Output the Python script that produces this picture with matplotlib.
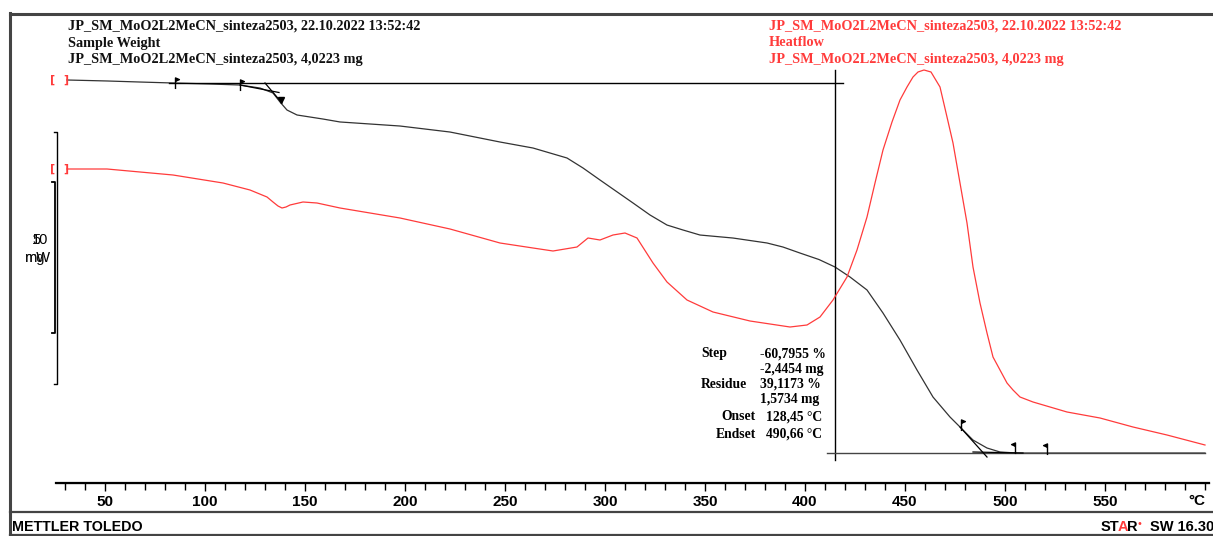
import matplotlib
matplotlib.use("Agg")
import matplotlib.pyplot as plt
from matplotlib.path import Path
from matplotlib.ticker import MultipleLocator

# --- data ---
tga_T = [31, 51, 67.5, 84, 102.5, 117.5, 127.5, 134, 137.5, 141, 146, 159, 167.5,
         197.5, 222.5, 247.5, 264, 281, 289, 297.5, 314, 322.5, 331, 339, 347.5,
         364, 381, 389, 397.5, 407, 415, 422.5, 431, 439, 447.5, 456, 464, 472.5,
         477.5, 484, 491, 497.5, 506, 547.5, 600]
tga_pct = [100.0, 99.84, 99.67, 99.51, 99.35, 99.18, 98.69, 97.88, 96.41, 95.10,
           94.29, 93.63, 93.15, 92.49, 91.51, 89.88, 88.90, 87.27, 85.64, 83.68,
           79.93, 77.97, 76.33, 75.52, 74.70, 74.21, 73.40, 72.74, 71.76, 70.70,
           69.48, 67.85, 65.73, 61.97, 57.56, 52.67, 48.26, 45.00, 43.37, 41.24,
           39.94, 39.29, 39.12, 39.12, 39.12]

hf_T = [31, 51, 84, 109, 122.5, 131, 134, 136.5, 138.5, 140.5, 142.5, 149, 156,
        167.5, 197.5, 222.5, 247.5, 264, 274, 286, 291.5, 297.5, 304, 310, 316,
        324, 331, 341, 354, 372.5, 392.5, 401, 407.5, 414, 421, 426, 431, 435,
        439, 443.5, 447.5, 451, 454, 456.5, 459.5, 463, 467.5, 471, 474, 477.5,
        481, 484, 487.5, 491, 494, 497.5, 501, 504, 507.5, 514, 531, 547.5, 564,
        581, 600]
hf_mW = [11.04, 11.04, 10.80, 10.48, 10.20, 9.92, 9.72, 9.56, 9.48, 9.52, 9.60,
         9.72, 9.68, 9.48, 9.08, 8.64, 8.08, 7.88, 7.76, 7.92, 8.28, 8.20, 8.40,
         8.48, 8.28, 7.28, 6.52, 5.80, 5.32, 4.96, 4.72, 4.80, 5.12, 5.80, 6.72,
         7.80, 9.12, 10.48, 11.80, 12.92, 13.80, 14.32, 14.72, 14.92, 15.00, 14.92,
         14.32, 13.12, 12.08, 10.48, 8.88, 7.12, 5.68, 4.48, 3.52, 3.00, 2.48,
         2.20, 1.92, 1.72, 1.32, 1.08, 0.72, 0.40, 0.00]

# step evaluation
step_left_T, step_right_T = 82, 419
base_top = 99.51
base_bottom = 39.12
eval_T = 415
flags_r_T = [85, 117.5, 478]
flags_r_pct = [99.51, 99.18, 43.69]
flags_l_T = [505, 521]
flags_l_pct = [39.94, 39.78]
onset_flag = (138, 96.74)
tangents = [([117.5, 137], [99.18, 97.96]),
            ([130, 138.5], [99.51, 96.25]),
            ([477.5, 491], [43.37, 38.47]),
            ([484, 509], [39.29, 39.12])]

result_labels = ["Step", "", "Residue", "", "Onset", "Endset"]
result_values = ["-60,7955 %", "-2,4454 mg", "39,1173 %", "1,5734 mg",
                 "128,45 \u00b0C", "490,66 \u00b0C"]

header_black = ["JP_SM_MoO2L2MeCN_sinteza2503, 22.10.2022 13:52:42",
                "Sample Weight",
                "JP_SM_MoO2L2MeCN_sinteza2503, 4,0223 mg"]
header_red = ["JP_SM_MoO2L2MeCN_sinteza2503, 22.10.2022 13:52:42",
              "Heatflow",
              "JP_SM_MoO2L2MeCN_sinteza2503, 4,0223 mg"]

RED = "#ff3b3b"
W, H = 1213, 536
serif = ["Liberation Serif", "DejaVu Serif"]
sans = ["Liberation Sans", "DejaVu Sans"]

fig = plt.figure(figsize=(W / 100, H / 100), dpi=100)

# page layer in pixel units (frame, headers, footer)
bg = fig.add_axes([0, 0, 1, 1])
bg.set_xlim(0, W)
bg.set_ylim(H, 0)
bg.axis("off")
bg.plot([10, W], [14, 14], color="#444444", lw=2.2)
bg.plot([10, 10], [13, 535], color="#444444", lw=2.2)
bg.plot([10, W], [512, 512], color="#444444", lw=1.6)
bg.plot([10, W], [535, 535], color="#444444", lw=1.6)

for i, s in enumerate(header_black):
    bg.text(68, 26 + 17 * i, s, fontsize=10.3, fontweight="bold", family=serif,
            va="center", ha="left", color="#111111")
for i, s in enumerate(header_red):
    bg.text(769, 26 + 17 * i, s, fontsize=10.3, fontweight="bold", family=serif,
            va="center", ha="left", color=RED)

bg.text(12, 527, "METTLER TOLEDO", fontsize=10.3, fontweight="bold", family=sans,
        va="center", ha="left")
bg.text(1101, 527, "ST", fontsize=10.5, fontweight="bold", family=sans, va="center")
bg.text(1118, 527, "A", fontsize=10.5, fontweight="bold", family=sans, va="center", color=RED)
bg.text(1127, 527, "R", fontsize=10.5, fontweight="bold", family=sans, va="center")
bg.text(1137, 524, "\u2022", fontsize=7, va="center", color=RED)
bg.text(1150, 527, "SW 16.30", fontsize=10.5, fontweight="bold", family=sans, va="center")

# scale bar labels (overlapping, as exported)
bg.text(48, 240, "10", fontsize=10.5, family=sans, ha="right", va="center")
bg.text(41, 240, "5", fontsize=10.5, family=sans, ha="right", va="center", color="#111111")
bg.text(50, 258, "mW", fontsize=10.5, family=sans, ha="right", va="center")
bg.text(45, 258, "mg", fontsize=10.5, family=sans, ha="right", va="center", color="#111111")

# main plot
ax = fig.add_axes([56 / W, (H - 483) / H, (1209 - 56) / W, (483 - 30) / H])
ax.patch.set_alpha(0)
ax.set_xlim(25.5, 602)
ax.set_ylim(34.23, 108.16)
ax2 = ax.twinx()
ax2.set_ylim(-1.52, 16.6)

for a in (ax, ax2):
    for side in ("top", "right", "left"):
        a.spines[side].set_visible(False)
    a.set_yticks([])
ax.spines["bottom"].set_linewidth(1.6)
ax.xaxis.set_major_locator(MultipleLocator(50))
ax.xaxis.set_minor_locator(MultipleLocator(10))
ax.tick_params(axis="x", which="major", length=6, width=1, pad=3)
ax.tick_params(axis="x", which="minor", length=5, width=1)
ax.set_xticks([t for t in range(50, 600, 50)])
for lab in ax.get_xticklabels():
    lab.set_fontfamily(sans)
    lab.set_fontweight("bold")
    lab.set_fontsize(11)
ax.text(596, -0.025, "\u00b0C", transform=ax.get_xaxis_transform(), ha="center",
        va="top", fontsize=11, fontweight="bold", family=sans)

# curves
ax.plot(tga_T, tga_pct, color="#333333", lw=0.9)
ax2.plot(hf_T, hf_mW, color=RED, lw=0.9)

# step evaluation lines
ax.plot([step_left_T, step_right_T], [base_top, base_top], color="black", lw=1)
ax.plot([eval_T, eval_T], [38.0, 101.6], color="black", lw=1)
ax.plot([411, 600], [base_bottom, base_bottom], color="#444444", lw=1)
for xs, ys in tangents:
    ax.plot(xs, ys, color="black", lw=0.9)

codes = [Path.MOVETO, Path.LINETO, Path.LINETO, Path.LINETO]
flag_r = Path([(0, -1), (0, 1), (0.7, 0.7), (0, 0.4)], codes)
flag_l = Path([(0, -1), (0, 1), (-0.7, 0.7), (0, 0.4)], codes)
ax.plot(flags_r_T, flags_r_pct, ls="none", marker=flag_r, ms=8, color="black", mew=1)
ax.plot(flags_l_T, flags_l_pct, ls="none", marker=flag_l, ms=8, color="black", mew=1)
ax.plot([onset_flag[0]], [onset_flag[1]], ls="none", marker="v", ms=4, color="black")

# red start brackets
for a, yv in ((ax, tga_pct[0]), (ax2, hf_mW[0])):
    a.text(24, yv, "[", color=RED, fontsize=8, ha="center", va="center", fontweight="bold")
    a.text(30.5, yv, "]", color=RED, fontsize=8, ha="center", va="center", fontweight="bold")

# scale bars
ax2.plot([24.5, 26, 26, 24.5], [12.52, 12.52, 2.44, 2.44], color="black", lw=1, clip_on=False)
ax.plot([23.5, 25, 25, 23.5], [83.35, 83.35, 58.71, 58.71], color="black", lw=1.3, clip_on=False)

# results block
ys = [354, 369, 384, 399, 417, 434]
fs = 9.8
for lab, val, yy in zip(result_labels, result_values, ys):
    if lab in ("Onset", "Endset"):
        bg.text(756, yy, lab, fontsize=fs, fontweight="bold", family=serif, ha="right", va="center")
        bg.text(766, yy, val, fontsize=fs, fontweight="bold", family=serif, ha="left", va="center")
    else:
        if lab:
            bg.text(701, yy, lab, fontsize=fs, fontweight="bold", family=serif, ha="left", va="center")
        bg.text(760, yy, val, fontsize=fs, fontweight="bold", family=serif, ha="left", va="center")

fig.savefig("out.png", dpi=100)
